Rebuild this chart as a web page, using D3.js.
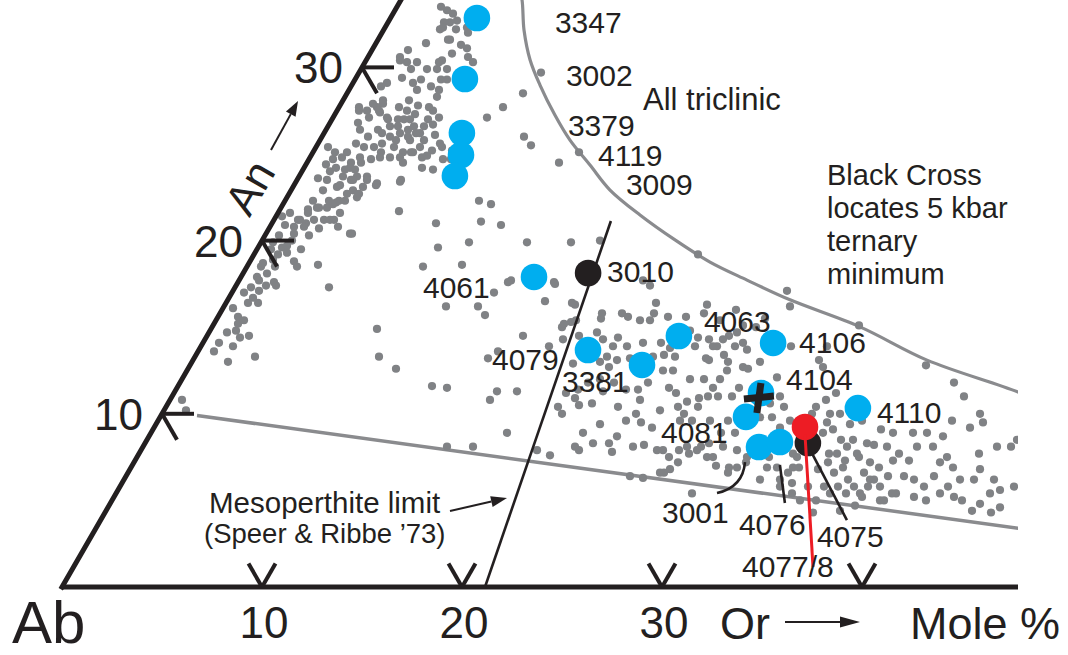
<!DOCTYPE html>
<html><head><meta charset="utf-8">
<script src="https://cdn.jsdelivr.net/npm/d3@7"></script>
<style>
body{margin:0;background:#fff}
text{font-family:"Liberation Sans",Arial,Helvetica,sans-serif;fill:#231f20}
</style>
</head><body>
<svg id="chart" width="1068" height="655"></svg>
<script>
// ---------------- DATA (mole %, [Or, An]) ----------------
const grayPoints = [
[0.6,10.8],[1.1,10.2],[0.8,13.6],[0.8,14.1],[0.9,14.7],[1.8,13.0],[1.6,13.9],[1.3,14.8],[1.2,15.2],[1.7,14.4],
[3.0,13.3],[0.5,16.1],[1.0,15.6],[0.6,17.0],[1.1,16.4],[1.2,16.7],[1.6,16.4],[0.8,17.3],[1.3,17.1],[1.5,17.4],
[2.0,17.4],[4.7,17.3],[1.8,17.6],[0.8,17.9],[1.0,17.7],[1.2,18.1],[0.7,18.5],[0.7,18.7],[1.4,18.5],[1.1,18.9],
[1.2,19.2],[0.6,19.9],[1.2,19.6],[1.6,19.3],[1.4,19.7],[2.2,18.8],[2.5,18.5],[3.5,18.6],[0.7,20.9],[1.2,20.8],
[1.3,21.2],[1.7,21.0],[1.4,21.8],[1.8,21.9],[2.3,21.9],[2.5,22.1],[2.6,22.2],[3.0,22.3],[3.0,21.2],[3.4,20.8],
[4.2,20.4],[0.3,21.4],[0.6,21.6],[1.2,21.2],[1.7,20.8],[2.0,21.2],[2.5,21.2],[2.8,21.2],[3.1,21.6],[1.4,20.4],
[1.5,21.6],[1.4,22.3],[1.9,21.9],[2.2,22.3],[1.6,22.9],[1.5,23.5],[2.2,23.1],[2.7,22.3],[2.9,22.7],[3.1,22.9],
[3.5,22.5],[2.7,23.5],[2.9,23.7],[3.4,23.7],[4.1,23.3],[3.1,24.7],[0.6,25.4],[1.2,24.7],[1.6,24.2],[1.6,24.8],
[2.2,24.5],[1.7,25.1],[2.5,24.8],[2.4,25.4],[1.9,25.6],[2.3,26.0],[1.7,26.4],[1.4,26.8],[1.1,27.5],[1.5,27.5],
[1.8,27.1],[1.9,27.7],[2.2,27.4],[2.1,27.9],[2.8,27.0],[2.6,26.4],[2.9,26.2],[3.1,26.6],[3.3,27.0],[3.4,26.0],
[3.9,25.4],[3.8,26.2],[4.1,26.4],[4.5,25.8],[4.6,26.2],[4.8,26.6],[4.8,27.0],[5.2,25.4],[5.0,25.1],[4.5,25.1],
[4.8,24.5],[3.4,25.1],[2.7,24.5],[2.3,24.2],[2.2,23.7],[2.8,23.5],[3.5,23.5],[5.2,23.5],[5.9,24.2],[6.5,24.1],
[5.6,24.8],[4.9,25.1],[4.5,24.8],[4.0,24.8],[3.5,24.8],[2.9,25.4],[3.2,25.6],[3.8,25.8],[4.3,26.0],[4.8,26.2],
[1.6,27.9],[1.0,27.7],[3.0,27.7],[3.6,27.0],[4.3,26.6],[3.5,26.6],[2.7,27.1],[2.1,27.5],[4.8,27.5],[4.6,28.3],
[4.3,29.3],[4.0,28.9],[3.4,28.7],[3.3,28.1],[3.5,27.5],[3.0,29.1],[2.3,29.4],[2.1,30.3],[1.6,30.6],[2.6,30.3],
[1.8,31.0],[2.5,31.4],[2.8,32.2],[2.8,32.6],[3.6,31.6],[4.1,30.8],[3.8,30.4],[4.3,29.9],[3.8,29.9],[1.7,29.1],
[1.5,28.9],[2.0,28.1],[2.2,33.5],[2.6,33.3],[3.0,33.1],[3.4,32.7],[3.1,32.6],[2.9,32.3],[4.1,32.3],[4.3,32.0],
[3.5,31.6],[4.7,31.1],[5.4,30.3],[5.0,30.6],[3.7,30.3],[1.7,30.4],[2.5,29.9],[3.3,29.3],[3.3,29.9],[4.6,29.3],
[4.5,28.7],[4.5,27.7],[6.1,25.6],[6.7,24.7],[7.1,24.7],[6.3,25.4],[6.9,25.2],[5.9,25.2],
[1.4,24.0],[2.3,23.2],[2.1,24.1],[1.1,25.1],[1.0,24.4],[2.6,24.1],[3.5,23.1],[1.0,23.6],
[4.0,27.3],[5.2,25.8],[5.2,26.7],[3.9,27.8],[5.6,26.1],[3.9,27.0],[5.8,24.9],[5.3,27.1],
[0.7,19.5],[0.7,20.3],[1.5,20.0],[2.2,19.5],[2.2,20.3],[2.5,20.7],[1.4,15.4],[2.1,14.5],[4.3,31.3],[3.6,32.2],
[9.1,29.7],[8.8,28.5],[8.2,27.7],[7.7,27.1],[10.1,26.0],[10.7,25.5],[12.6,24.5],[13.3,25.1],[9.7,22.3],[10.4,22.1],
[6.0,21.7],[4.3,20.4],[8.2,21.0],[10.4,21.1],[11.5,20.9],[13.3,19.9],[15.5,19.9],[16.9,20.0],[9.0,19.6],[10.4,19.9],
[8.8,18.5],[10.7,18.6],[13.6,17.7],[13.1,17.0],[15.8,17.6],[20.7,17.4],[20.2,17.7],[22.2,19.2],[4.1,23.2],[5.2,23.4],
[3.5,22.7],[11.1,16.2],[12.7,16.2],[13.3,15.7],[15.9,16.5],[17.5,16.3],[8.3,14.9],[17.5,15.0],[17.8,15.3],[15.8,14.5],
[9.2,13.3],[10.4,12.6],[14.7,13.2],[15.0,13.6],[17.4,13.9],[12.7,11.6],[13.5,11.5],[16.0,10.8],[16.1,11.3],[17.1,11.3],
[20.2,10.9],[19.6,10.4],[20.0,10.0],[19.1,12.9],[17.8,8.9],[15.2,8.1],[16.5,8.1],[19.8,7.9],[20.6,7.6],[21.6,8.9],
[21.6,8.1],[21.9,7.9],[23.6,7.8],[25.9,6.3],[26.8,6.6],[28.8,5.4],[13.5,17.6],[15.9,17.5],
[17.3,16.4],[17.5,15.2],[18.0,15.4],[19.2,15.5],[19.1,15.8],[20.1,15.8],[20.5,15.6],[21.2,15.4],[21.7,15.4],[21.5,16.4],
[21.7,15.8],[22.5,15.6],[23.4,15.6],[24.1,16.3],[24.2,15.8],[25.2,14.3],[25.8,13.9],[25.9,14.3],[26.4,14.7],[27.0,14.1],
[24.6,14.4],[24.7,13.9],[25.6,13.2],[26.4,13.4],[26.8,13.0],[27.0,12.5],[27.7,12.7],[28.4,13.0],[29.5,13.9],[28.3,16.2],
[27.7,17.1],[17.9,14.3],[18.6,14.5],[19.4,14.7],[19.9,14.3],[20.6,14.4],[20.6,13.9],[21.3,13.9],[22.0,14.1],[21.8,13.2],
[21.2,13.1],[20.6,13.3],[20.4,13.0],[21.0,12.7],[22.9,14.1],[23.4,13.4],[23.5,13.8],[24.0,13.3],[22.9,13.3],[23.1,12.5],
[23.8,12.5],[24.3,12.5],[24.6,11.5],[25.1,11.2],[25.9,10.7],[25.6,10.4],[26.1,10.0],[26.6,10.4],[26.8,11.0],[26.8,11.5],
[28.0,11.0],[28.5,9.6],[29.2,8.9],[28.5,8.9],[28.2,8.3],[29.0,8.1],[29.8,7.9],[30.5,7.5],[30.3,6.9],[30.0,6.6],
[29.2,7.0],[28.5,7.5],[27.8,7.9],[27.2,8.1],[27.2,7.2],[26.6,7.5],[26.1,7.9],[25.8,7.9],[25.0,8.2],[24.5,8.1],
[23.4,8.7],[23.2,8.3],[22.4,8.3],[20.6,10.5],[21.2,10.6],[22.6,10.4],[23.7,10.0],[23.4,9.6],[24.2,9.5],[24.9,9.2],
[23.5,10.8],[23.1,11.4],[23.4,11.8],[22.5,11.4],[21.7,11.8],[21.4,11.3],[20.9,12.0],[20.4,11.8],[20.1,11.4],[19.6,11.2],
[30.6,9.8],[30.9,10.4],[31.6,9.6],[31.3,9.2],[30.0,9.8],[31.8,6.9],[31.8,6.2],[32.8,6.2],[33.1,6.9],[32.7,7.7],
[27.0,6.8],[26.6,6.6],[25.2,6.4],[24.0,14.8],[25.6,13.9],[26.1,14.5],[26.7,13.9],[27.4,13.7],[28.0,12.6],[25.8,13.1],
[26.9,12.0],[26.1,12.0],[25.4,12.0],[28.1,11.5],[27.3,11.0],[26.4,10.9],[26.1,9.6],[26.7,9.6],[27.6,9.6],[27.9,8.1],
[27.5,7.7],[28.8,7.5],[29.9,6.9],[30.6,7.2],[26.9,7.9],[31.6,7.5],[32.3,6.9],[33.0,6.6],[33.5,6.0],[33.0,5.8],
[33.0,7.5],[30.4,11.0],[30.1,10.6],[29.7,12.1],[31.7,12.7],[31.3,13.1],[31.3,13.9],[33.1,11.2],[32.8,10.8],[32.5,10.4],
[32.5,10.0],[33.4,10.0],[33.9,10.0],[33.5,9.5],[33.6,8.9],[34.0,9.1],[34.7,8.5],[35.2,8.1],[34.9,7.7],[34.7,7.2],
[34.4,6.8],[35.3,6.6],[35.6,6.9],[36.2,6.2],[35.9,5.8],[35.2,5.8],[36.7,5.8],[37.2,5.4],[37.4,5.8],[37.5,6.2],
[38.0,5.8],[38.1,6.4],[37.4,6.9],[36.8,7.2],[36.1,7.5],[35.3,8.5],[36.1,8.3],[36.4,9.1],[37.1,8.9],[37.2,8.1],
[38.0,7.7],[37.9,7.3],[38.7,7.3],[38.7,8.1],[38.1,8.9],[38.8,8.9],[39.5,8.1],[39.7,8.7],[40.5,7.5],[40.3,7.2],
[41.1,6.9],[41.8,6.2],[41.4,5.8],[40.4,6.4],[40.2,5.8],[39.5,6.2],[38.9,6.4],[39.0,5.4],[40.0,5.2],[40.7,5.0],
[41.2,5.4],[42.0,5.2],[42.5,5.0],[43.3,4.4],[43.5,4.8],[44.3,4.3],[44.6,4.6],[43.7,5.4],[42.5,6.2],[42.5,6.8],
[43.5,6.2],[44.1,5.6],[44.7,5.8],[43.4,8.1],[42.7,8.1],[42.0,7.7],[40.8,9.2],[39.7,9.6],[41.3,9.5],[39.6,11.0],
[40.9,10.0],[38.7,11.8],[43.5,8.5],[32.3,15.1],[36.8,12.8],[36.8,6.6],[38.4,5.0],[37.4,5.2],[36.5,5.4],[35.7,5.4],
[35.2,5.0],[34.4,5.8],[33.4,6.9],[33.8,5.4],[35.4,4.3],[35.9,7.7],[34.5,7.7],[38.8,5.4],[26.5,15.1],[27.4,15.5],
[34.7,9.4],[35.2,9.6],[36.5,8.2],[35.5,7.3],[37.3,6.2],[38.6,5.0],[37.3,4.7],[36.7,4.4],[34.4,5.0],
[25.2,15.4],[25.7,16.0],[27.2,15.0],[24.8,10.2],[22.2,9.4]
];

const sampleLabels = ["3347","3002","3379","4119","3009","4061","4079","3381","4063","4106","4104","4081","3001","4076","4110","3010","4075","4077/8"];
const sampleOr = [4.32,5.48,6.89,7.48,7.78,14.65,19.46,22.59,23.6,28.51,29.35,29.29,30.81,31.71,34.63,17.24,33.14,32.53];
const sampleAn = [32.85,29.33,26.21,24.94,23.73,17.9,13.68,12.82,14.49,14.09,11.2,9.82,8.08,8.37,10.33,18.13,8.31,9.24];
const sampleGroup = ["blue","blue","blue","blue","blue","blue","blue","blue","blue","blue","blue","blue","blue","blue","blue","black","black","red"];

const minimumOr = [29.39];   // 5 kbar ternary minimum (black cross)
const minimumAn = [10.91];

const orTicks = [10, 20, 30, 40];
const anTicks = [10, 20, 30];

const triclinicOr = [5.6,6.05,7.02,8.19,9.41,11.02,12.5,14.22,15.94,18.16,20.63,23.02,25.39,28.11,32.39,36.7,42.17,44.8];
const triclinicAn = [34.5,33.9,32.16,30.43,28.98,27.25,25.8,24.36,22.92,21.48,20.04,18.76,17.72,16.58,15.02,13.1,11.26,10.2];
const monoclinicOr = [1.8, 48.3];
const monoclinicAn = [9.9, 3.07];
const mesoOr = [21.15, 16.88];
const mesoAn = [0, 21.13];

// ---------------- LAYOUT ----------------
const svg = d3.select("#chart");
const U = 20;                       // px per mole %
const sx = d3.scaleLinear().domain([0, 50]).range([62, 62 + 50 * U]);
const sy = d3.scaleLinear().domain([0, 40]).range([587, 587 - 40 * U * Math.sqrt(3) / 2]);
const P = (or, an) => [sx(or + an / 2), sy(an)];
const plotRight = 1018;

const C = {blue:"#00aeef", black:"#231f20", red:"#ed1c24", dot:"#808285", line:"#8a8b8e", ink:"#231f20"};

svg.append("defs").append("clipPath").attr("id","clip")
  .append("rect").attr("x",0).attr("y",0).attr("width",plotRight).attr("height",655);

const plot = svg.append("g").attr("clip-path","url(#clip)");
const lineP = d3.line().x(d => P(d[0], d[1])[0]).y(d => P(d[0], d[1])[1]);

// gray boundaries
plot.append("path").datum(d3.zip(triclinicOr, triclinicAn))
  .attr("d", d3.line().x(d => P(d[0], d[1])[0]).y(d => P(d[0], d[1])[1]).curve(d3.curveCatmullRom.alpha(0.5)))
  .attr("fill","none").attr("stroke",C.line).attr("stroke-width",3.2);
plot.append("path").datum(d3.zip(monoclinicOr, monoclinicAn)).attr("d", lineP)
  .attr("fill","none").attr("stroke",C.line).attr("stroke-width",3.5);

// gray data points
plot.append("g").selectAll("circle").data(grayPoints).join("circle")
  .attr("cx", d => P(d[0], d[1])[0]).attr("cy", d => P(d[0], d[1])[1])
  .attr("r", 4.1).attr("fill", C.dot);

// axes
plot.append("path").datum([[0,0],[50,0]]).attr("d", lineP)
  .attr("stroke",C.ink).attr("stroke-width",5).attr("fill","none");
plot.append("path").datum([[0,0],[0,36]]).attr("d", lineP)
  .attr("stroke",C.ink).attr("stroke-width",5).attr("fill","none").attr("stroke-linecap","square");

// Or ticks (V)
const tk = 1.35;
orTicks.forEach(t => {
  [[[t,0],[t-tk,tk]],[[t,0],[t,tk]]].forEach(s => plot.append("path").datum(s).attr("d", lineP)
     .attr("stroke",C.ink).attr("stroke-width",4).attr("fill","none"));
});
orTicks.slice(0,3).forEach(t => {
  svg.append("text").attr("x", P(t,0)[0] + 2).attr("y", 638)
    .attr("text-anchor","middle").attr("font-size",44).text(t);
});
// An ticks (<)
anTicks.forEach(t => {
  [[[0,t],[1.6,t]],[[0,t],[1.5,t-1.5]]].forEach(s => plot.append("path").datum(s).attr("d", lineP)
     .attr("stroke",C.ink).attr("stroke-width",4).attr("fill","none"));
  const p = P(0,t);
  svg.append("text").attr("x", p[0] - 19).attr("y", p[1] + 16)
    .attr("text-anchor","end").attr("font-size",44).text(t);
});

// mesoperthite limit line
plot.append("path").datum(d3.zip(mesoOr, mesoAn)).attr("d", lineP)
  .attr("stroke",C.ink).attr("stroke-width",2.6).attr("fill","none");

// arrows helper
function arrow(x1,y1,x2,y2,hl,hw,w){
  const a = Math.atan2(y2-y1,x2-x1), c = Math.cos(a), s = Math.sin(a);
  const bx = x2 - hl*c, by = y2 - hl*s;
  svg.append("line").attr("x1",x1).attr("y1",y1).attr("x2",bx).attr("y2",by)
    .attr("stroke",C.ink).attr("stroke-width",w);
  svg.append("path").attr("d",`M${x2},${y2}L${bx - hw/2*s},${by + hw/2*c}L${bx + hw/2*s},${by - hw/2*c}Z`)
    .attr("fill",C.ink);
}

// samples
const samples = sampleLabels.map((l,i) => ({label:l, or:sampleOr[i], an:sampleAn[i], group:sampleGroup[i]}));

// leaders (pixel offsets from each point)
const leaderLayout = {
  "4076":  {path:"M0,23L5,61", color:C.ink, w:2.6},
  "4075":  {path:"M4,10L39,77", color:C.ink, w:2.6},
  "3001":  {path:"M-14,15Q-16,40 -42,46", color:C.ink, w:2.6}
};
samples.filter(d => leaderLayout[d.label]).forEach(d => {
  const p = P(d.or, d.an), L = leaderLayout[d.label];
  svg.append("path").attr("transform",`translate(${p[0]},${p[1]})`).attr("d",L.path)
    .attr("fill","none").attr("stroke",L.color).attr("stroke-width",L.w);
});

const sampleG = svg.append("g");
["blue","black","red"].forEach(gp => {
  sampleG.append("g").selectAll("circle").data(samples.filter(d => d.group === gp)).join("circle")
    .attr("cx", d => P(d.or, d.an)[0]).attr("cy", d => P(d.or, d.an)[1])
    .attr("r", 13.3).attr("fill", C[gp]);
});
// red leader from red dot
samples.filter(d => d.label === "4077/8").forEach(d => {
  const p = P(d.or, d.an);
  svg.append("path").attr("transform",`translate(${p[0]},${p[1]})`).attr("d","M0,8L8,140")
    .attr("fill","none").attr("stroke",C.red).attr("stroke-width",3);
});

// black cross (ternary minimum)
d3.zip(minimumOr, minimumAn).forEach(m => {
  const p = P(m[0], m[1]);
  const cg = svg.append("g").attr("transform",`translate(${p[0]},${p[1]})`);
  cg.append("line").attr("x1",-15).attr("y1",1).attr("x2",15).attr("y2",-2).attr("stroke",C.black).attr("stroke-width",7);
  cg.append("line").attr("x1",2).attr("y1",-15).attr("x2",-2).attr("y2",15).attr("stroke",C.black).attr("stroke-width",7);
});

// sample labels
const labelLayout = {
  "3347":[78,15],"3002":[101,7],"3379":[106,3],"4119":[137,11],"3009":[171,19],
  "4061":[-111,21],"4079":[-96,20],"3381":[-80,27],"4063":[25,-4],"4106":[26,10],
  "4104":[25,-3],"4081":[-85,26],"3001":[-97,76],"4076":[-41,93],"4110":[19,15],
  "3010":[19,9],"4075":[9,104],"4077/8":[-63,150]
};
svg.append("g").selectAll("text").data(samples).join("text")
  .attr("x", d => P(d.or, d.an)[0] + labelLayout[d.label][0])
  .attr("y", d => P(d.or, d.an)[1] + labelLayout[d.label][1])
  .attr("font-size", 30).text(d => d.label);

// annotations
svg.append("text").attr("x",643).attr("y",110).attr("font-size",31).text("All triclinic");
["Black Cross","locates 5 kbar","ternary","minimum"].forEach((t,i) =>
  svg.append("text").attr("x",827).attr("y",185 + i*33).attr("font-size",29).text(t));
svg.append("text").attr("x",209).attr("y",513).attr("font-size",29.5).text("Mesoperthite limit");
svg.append("text").attr("x",204).attr("y",543).attr("font-size",27.5).text("(Speer & Ribbe \u201973)");
arrow(450,511,507,498,16,11,2);

svg.append("text").attr("x",12).attr("y",643).attr("font-size",60).text("Ab");
svg.append("text").attr("x",720).attr("y",639).attr("font-size",45).text("Or");
arrow(785,622,860,622,20,11,2);
svg.append("text").attr("x",910).attr("y",639).attr("font-size",45).text("Mole %");

svg.append("text").attr("transform","translate(263,195) rotate(-60)")
  .attr("text-anchor","middle").attr("font-size",44).text("An");
arrow(271,150,298,101,15,11,2);
</script>
</body></html>
